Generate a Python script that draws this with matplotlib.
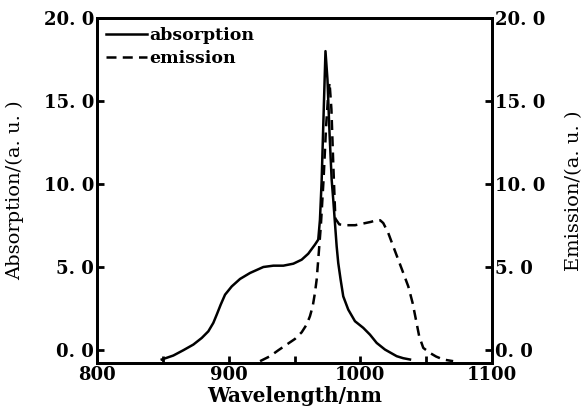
import numpy as np
import matplotlib
matplotlib.use('Agg')
import matplotlib.pyplot as plt
from matplotlib.ticker import FixedLocator, FuncFormatter

# absorption spectrum
abs_wl = [849.1, 857.9, 865.5, 873.1, 879.5, 884.5, 888.3, 890.9, 893.9, 897.2, 902.3,
          908.6, 916.2, 926.3, 933.9, 941.5, 949.1, 955.4, 960.4, 965.5, 968.0, 969.3,
          970.6, 972.0, 973.5, 975.0, 976.6, 978.2, 979.4, 980.7, 982.0, 983.2, 985.0,
          987.0, 990.8, 995.9, 1002.2, 1007.3, 1012.4, 1018.7, 1027.6, 1032.5, 1037.7]
abs_val = [-0.60, -0.36, -0.04, 0.30, 0.70, 1.10, 1.61, 2.11, 2.71, 3.31, 3.81,
           4.26, 4.62, 4.98, 5.06, 5.06, 5.18, 5.42, 5.78, 6.33, 6.63, 7.83,
           10.2, 14.0, 18.0, 16.3, 13.0, 10.24, 9.04, 7.63, 6.22, 5.22, 4.22,
           3.21, 2.41, 1.71, 1.31, 0.90, 0.40, 0.00, -0.40, -0.52, -0.60]

# emission spectrum
em_wl = [923.8, 931.4, 937.7, 944.0, 950.3, 955.4, 959.2, 961.7, 963.8, 965.5, 966.8,
         968.0, 970.0, 972.0, 974.0, 975.5, 976.6, 978.0, 979.5, 981.0, 984.0, 989.6,
         996.0, 1002.0, 1008.0, 1012.0, 1015.0, 1017.4, 1021.2, 1025.0, 1028.8, 1032.6,
         1036.4, 1039.7, 1042.2, 1044.7, 1047.8, 1052.8, 1057.5, 1062.9, 1070.5]
em_val = [-0.70, -0.40, -0.04, 0.30, 0.64, 1.04, 1.51, 2.01, 2.61, 3.42, 4.22,
          5.42, 7.5, 10.2, 13.5, 15.3, 16.1, 14.5, 11.0, 7.9, 7.55, 7.5,
          7.5, 7.6, 7.7, 7.8, 7.8, 7.63, 7.03, 6.22, 5.42, 4.62,
          3.81, 2.81, 1.81, 0.80, 0.10, -0.20, -0.42, -0.60, -0.70]

y_ticks = [0, 5, 10, 15, 20]
x_major = [800, 900, 1000, 1100]
x_minor = [850, 950, 1050]

plt.rcParams['font.family'] = 'DejaVu Serif'

fig = plt.figure(figsize=(5.85, 4.18), dpi=100)
ax = fig.add_axes([0.166, 0.132, 0.675, 0.825])
ax2 = ax.twinx()

l1, = ax.plot(abs_wl, abs_val, color='black', lw=1.8, label='absorption')
l2, = ax2.plot(em_wl, em_val, color='black', lw=1.8, ls=(0, (4, 2.5)), label='emission')

for a in (ax, ax2):
    a.set_xlim(800, 1100)
    a.set_ylim(-0.8, 20)
    a.yaxis.set_major_locator(FixedLocator(y_ticks))
    a.yaxis.set_major_formatter(FuncFormatter(lambda v, p: f'{v:.1f}'.replace('.', '. ')))
    for s in a.spines.values():
        s.set_linewidth(2.0)
    a.tick_params(direction='in', length=5, width=2, labelsize=13)

ax.xaxis.set_major_locator(FixedLocator(x_major))
ax.xaxis.set_minor_locator(FixedLocator(x_minor))
ax.tick_params(axis='x', which='minor', direction='in', length=5, width=2)
ax.tick_params(axis='x', pad=2)
ax.tick_params(axis='y', pad=2)
ax2.tick_params(axis='y', pad=2)
for lab in ax.get_xticklabels() + ax.get_yticklabels() + ax2.get_yticklabels():
    lab.set_fontweight('bold')

ax.set_xlabel('Wavelength/nm', fontsize=14.5, fontweight='bold', labelpad=2)
ax.set_ylabel('Absorption/(a. u. )', fontsize=14, labelpad=14)
ax2.set_ylabel('Emission/(a. u. )', fontsize=14, rotation=90, labelpad=14)

ax.legend(handles=[l1, l2], loc='upper left', frameon=False,
          handlelength=2.4, handletextpad=0.1, borderaxespad=0.1, labelspacing=0.35,
          prop={'weight': 'bold', 'size': 12.5})

fig.savefig('out.png', dpi=100)
